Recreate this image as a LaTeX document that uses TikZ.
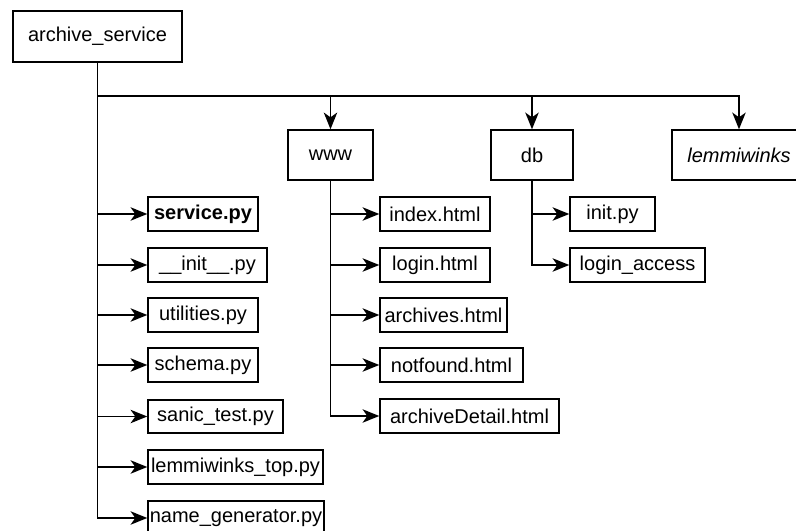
\documentclass[tikz,border=0pt]{standalone}
\usepackage{fontspec}
\setmainfont{Liberation Sans}
\usetikzlibrary{arrows.meta}
\begin{document}
\begin{tikzpicture}[x=0.75pt,y=-0.75pt,
  every node/.style={font=\fontsize{15}{18}\selectfont},
  filebox/.style 2 args={draw=black, line width=1.05pt, inner sep=0pt,
    minimum width=#1*0.75pt, minimum height=#2*0.75pt, align=center},
  link/.style={draw=black, line width=1.35pt},
  arr/.style={link, -{Stealth[length=12.5pt,width=10pt,inset=3.5pt]}}]
\useasboundingbox (0,0) rectangle (796,531);
\clip (0,0) rectangle (796,531);

% top level folder and its sub folders
\node[filebox={169}{51}] (root) at (97.5,36.5) {archive\_service};
\node[filebox={85}{50}] (www) at (330.5,155) {www};
\node[filebox={82}{50}] (db) at (532,155) {db};
\node[filebox={134}{50}] (lemmi) at (739,155) {\itshape lemmiwinks};

% files in the top level folder
\node[filebox={110}{34}] (service) at (203,214) {\bfseries service.py};
\node[filebox={119}{34}] (init) at (207.5,265) {\_\_init\_\_.py};
\node[filebox={110}{34}] (util) at (203,315) {utilities.py};
\node[filebox={110}{34}] (schema) at (203,365) {schema.py};
\node[filebox={135}{33}] (sanic) at (215.5,416.5) {sanic\_test.py};
\node[filebox={175}{34}] (ltop) at (235.5,467) {lemmiwinks\_top.py};
\node[filebox={176}{34}] (namegen) at (236,518) {name\_generator.py};

% files in www
\node[filebox={110}{34}] (index) at (435,214) {index.html};
\node[filebox={110}{34}] (login) at (435,265) {login.html};
\node[filebox={127}{34}] (archives) at (443.5,315) {archives.html};
\node[filebox={143}{34}] (notfound) at (451.5,365) {notfound.html};
\node[filebox={179}{34}] (detail) at (469.5,416) {archiveDetail.html};

% files in db
\node[filebox={85}{34}] (dbinit) at (612.5,214) {init.py};
\node[filebox={135}{34}] (access) at (637.5,265) {login\_access};

% connectors
\coordinate (bus) at (97.5,96);
\draw[arr] (root.south) -- (bus) -| (www.north);
\draw[arr] (bus) -| (db.north);
\draw[arr] (bus) -| (lemmi.north);
\foreach \f in {service,init,util,schema,sanic,ltop,namegen}
  \draw[arr] (root.south) |- (\f.west);
\foreach \f in {index,login,archives,notfound,detail}
  \draw[arr] (www.south) |- (\f.west);
\foreach \f in {dbinit,access}
  \draw[arr] (db.south) |- (\f.west);
\end{tikzpicture}
\end{document}
